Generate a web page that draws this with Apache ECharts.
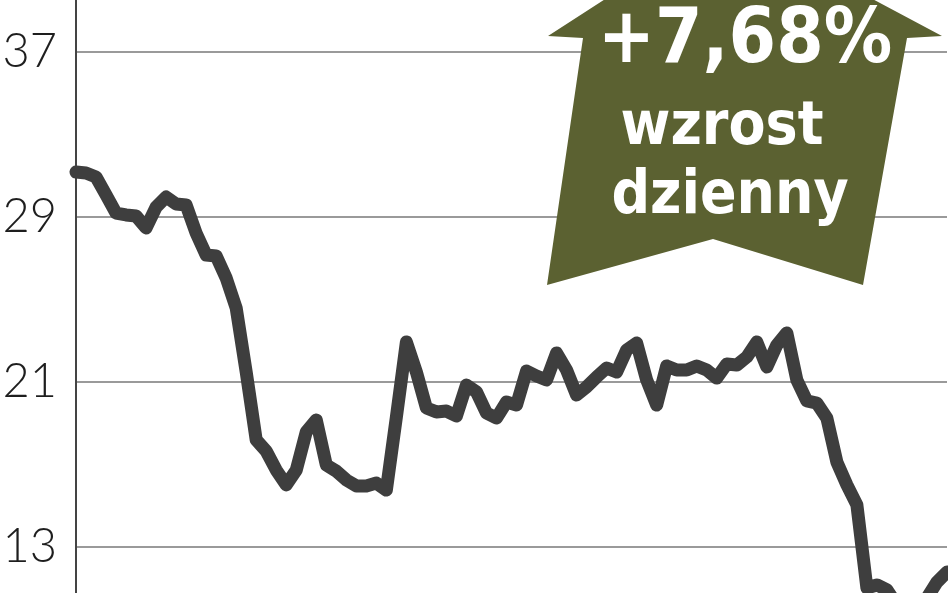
<!DOCTYPE html>
<html lang="pl">
<head>
    <meta charset="UTF-8">
    <title>Kurs akcji</title>
    <style>
        html, body { margin: 0; padding: 0; background: #fff; }
        #main { width: 948px; height: 593px; }
    </style>
    <script src="https://cdn.jsdelivr.net/npm/echarts@6/dist/echarts.min.js"></script>
</head>
<body>
    <div id="main"></div>
    <script>
        // notowania dzienne
        var days = [];
        var prices = [
            31.18, 31.13, 30.94, 30.07, 29.19, 29.10, 29.05, 28.47, 29.48, 29.97,
            29.63, 29.58, 28.22, 27.16, 27.11, 26.04, 24.59, 21.48, 18.19, 17.65,
            16.73, 16.01, 16.73, 18.58, 19.16, 16.98, 16.68, 16.25, 15.96, 15.96,
            16.10, 15.76, 19.30, 22.94, 21.48, 19.74, 19.55, 19.59, 19.35, 20.85,
            20.52, 19.50, 19.25, 20.03, 19.88, 21.53, 21.29, 21.10, 22.41, 21.58,
            20.37, 20.76, 21.24, 21.68, 21.48, 22.55, 22.89, 21.10, 19.88, 21.78,
            21.58, 21.58, 21.78, 21.58, 21.19, 21.87, 21.82, 22.21, 22.94, 21.73,
            22.79, 23.38, 21.10, 20.08, 19.98, 19.25, 17.12, 16.01, 15.04, 11.01,
            11.16, 10.92, 10.19, 9.85, 9.95, 10.53, 11.30, 11.79
        ];
        for (var i = 0; i < prices.length; i++) days.push(i + 1);

        var yTicks = [13, 21, 29, 37];
        var badgeLines = ['+7,68%', 'wzrost', 'dzienny'];

        var chart = echarts.init(document.getElementById('main'));

        var option = {
            animation: false,
            grid: { left: 76, right: 1, top: -113, bottom: -119, outerBoundsMode: 'none' },
            xAxis: {
                type: 'category',
                data: days,
                boundaryGap: false,
                show: false
            },
            yAxis: {
                type: 'value',
                min: 5,
                max: 45,
                interval: 8,
                axisLine: { show: true, lineStyle: { color: '#444', width: 2 } },
                axisTick: { show: false },
                axisLabel: {
                    margin: 19,
                    fontSize: 47,
                    fontFamily: 'Lato, "Liberation Sans"',
                    fontWeight: 300,
                    color: '#1e1e1e',
                    formatter: function (v) {
                        return yTicks.indexOf(v) >= 0 ? String(v) : '';
                    }
                },
                splitLine: { lineStyle: { color: '#9a9a9a', width: 2 } }
            },
            series: [{
                type: 'line',
                data: prices,
                symbol: 'none',
                lineStyle: { color: '#3e3e3e', width: 13, join: 'round', cap: 'round' }
            }],
            graphic: [
                {
                    type: 'polygon',
                    z: 10,
                    shape: {
                        points: [[726, -79], [942, 36], [907, 38], [863, 285],
                                 [713, 239], [547, 285], [583, 38], [548, 36]]
                    },
                    style: { fill: '#5b6131' }
                },
                {
                    type: 'text', z: 11, x: 745, y: 42,
                    style: {
                        text: badgeLines[0], fill: '#fff',
                        font: 'bold 76px "DejaVu Sans Condensed", "Liberation Sans"',
                        textAlign: 'center', textVerticalAlign: 'middle'
                    }
                },
                {
                    type: 'text', z: 11, x: 722, y: 128,
                    style: {
                        text: badgeLines[1], fill: '#fff',
                        font: 'bold 60px "DejaVu Sans Condensed", "Liberation Sans"',
                        textAlign: 'center', textVerticalAlign: 'middle'
                    }
                },
                {
                    type: 'text', z: 11, x: 730, y: 197,
                    style: {
                        text: badgeLines[2], fill: '#fff',
                        font: 'bold 60px "DejaVu Sans Condensed", "Liberation Sans"',
                        textAlign: 'center', textVerticalAlign: 'middle'
                    }
                }
            ]
        };

        chart.setOption(option);
    </script>
</body>
</html>
